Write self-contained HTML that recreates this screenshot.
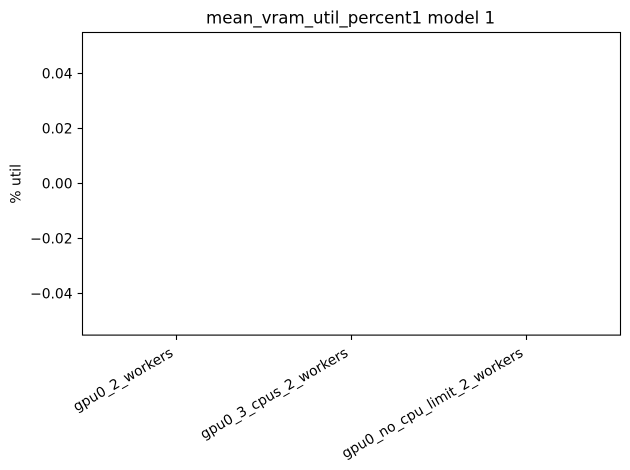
<!DOCTYPE html>
<html lang="en">
<head>
<meta charset="utf-8">
<title>mean_vram_util_percent1 model 1</title>
<style>
  html, body { margin: 0; padding: 0; background: #ffffff; }
  svg { display: block; font-family: "DejaVu Sans", "Liberation Sans", sans-serif; }
</style>
</head>
<body>
<svg id="chart" xmlns="http://www.w3.org/2000/svg" width="630" height="470" viewBox="0 0 630 470">
  <rect x="0" y="0" width="630" height="470" fill="#ffffff"/>
  <text x="350.6" y="23.5" font-size="16.67" text-anchor="middle" fill="#000000">mean_vram_util_percent1 model 1</text>
  <text transform="translate(20.5 183.8) rotate(-90)" font-size="13.89" text-anchor="middle" fill="#000000">% util</text>
  <g id="bars"></g>
  <g id="y-ticks"></g>
  <g id="x-ticks"></g>
  <rect x="82.5" y="32.5" width="538" height="302.6" fill="none" stroke="#000000" stroke-width="1.11"/>
</svg>
<script>
const categories = ['gpu0_2_workers', 'gpu0_3_cpus_2_workers', 'gpu0_no_cpu_limit_2_workers'];
const seriesValues = [0, 0, 0];
const yTickValues = [0.04, 0.02, 0, -0.02, -0.04];
const yTickLabels = ['0.04', '0.02', '0.00', '\u22120.02', '\u22120.04'];

const NS = 'http://www.w3.org/2000/svg';
const plot = { left: 82.5, right: 620.5, top: 32.5, bottom: 335.1 };
const xDomain = [-0.537, 2.537];
const yDomain = [-0.055, 0.055];

function xScale(v) {
  return plot.left + (v - xDomain[0]) / (xDomain[1] - xDomain[0]) * (plot.right - plot.left);
}
function yScale(v) {
  return plot.bottom - (v - yDomain[0]) / (yDomain[1] - yDomain[0]) * (plot.bottom - plot.top);
}
function make(tag, parent) {
  const el = document.createElementNS(NS, tag);
  parent.appendChild(el);
  return el;
}

const barsGroup = document.getElementById('bars');
const yGroup = document.getElementById('y-ticks');
const xGroup = document.getElementById('x-ticks');
const barWidth = 0.8;

seriesValues.forEach(function (value, i) {
  const bar = make('rect', barsGroup);
  
  
  const y0 = yScale(0);
  const y1 = yScale(value);
  bar.setAttribute('x', xScale(i - barWidth / 2));
  bar.setAttribute('y', Math.min(y0, y1));
  bar.setAttribute('width', xScale(i + barWidth / 2) - xScale(i - barWidth / 2));
  bar.setAttribute('height', Math.abs(y1 - y0));
  bar.setAttribute('fill', '#1f77b4');
});

yTickValues.forEach(function (value, i) {
  const y = Math.round(yScale(value) - 0.5) + 0.5;
  const tick = make('line', yGroup);
  
  
  tick.setAttribute('x1', plot.left);
  tick.setAttribute('x2', plot.left - 4.86);
  tick.setAttribute('y1', y);
  tick.setAttribute('y2', y);
  tick.setAttribute('stroke', '#000000');
  tick.setAttribute('stroke-width', '1.11');
  const label = make('text', yGroup);
  
  
  label.setAttribute('x', plot.left - 9.9);
  label.setAttribute('y', y + 5);
  label.setAttribute('font-size', '13.89');
  label.setAttribute('text-anchor', 'end');
  label.setAttribute('fill', '#000000');
  label.textContent = yTickLabels[i];
});

categories.forEach(function (name, i) {
  const x = Math.round(xScale(i) - 0.5) + 0.5;
  const tick = make('line', xGroup);
  
  
  tick.setAttribute('x1', x);
  tick.setAttribute('x2', x);
  tick.setAttribute('y1', plot.bottom);
  tick.setAttribute('y2', plot.bottom + 4.86);
  tick.setAttribute('stroke', '#000000');
  tick.setAttribute('stroke-width', '1.11');
  const label = make('text', xGroup);
  
  
  label.setAttribute('transform', 'translate(' + (x - 2.5) + ' 355.5) rotate(-30)');
  label.setAttribute('font-size', '13.89');
  label.setAttribute('text-anchor', 'end');
  label.setAttribute('fill', '#000000');
  label.textContent = name;
});
</script>
</body>
</html>
